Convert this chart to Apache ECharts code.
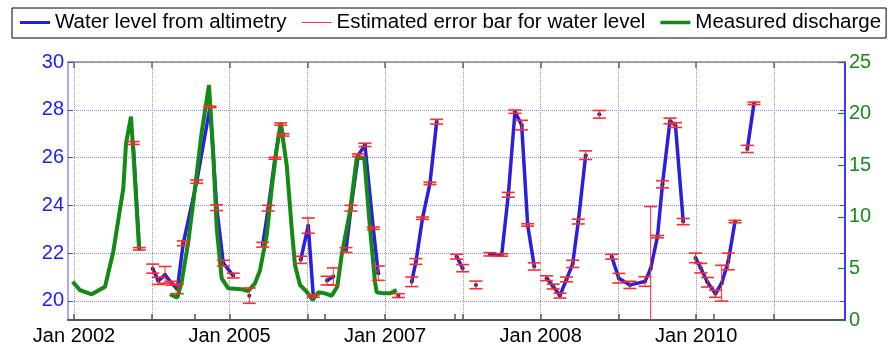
<!DOCTYPE html>
<html><head><meta charset="utf-8">
<script src="https://cdn.jsdelivr.net/npm/echarts@6/dist/echarts.min.js"></script>
<style>html,body{margin:0;padding:0;background:#fff}#c{width:888px;height:346px}</style>
</head><body><div id="c"></div>
<script>
// ---- axis ticks / labels ----
const xTickYears = [2002,2003,2004,2005,2006,2007,2008,2009,2010,2011];
const xLabelYears = [2002,2004,2006,2008,2010];
const xLabels = ['Jan 2002','Jan 2005','Jan 2007','Jan 2008','Jan 2010'];
const xExtraTicks = [2003.556,2005.227,2006.898,2010.228];
const levelTicks = [20,22,24,26,28,30];

// ---- water level from altimetry (null = gap) ----
const altYear = [2002.761,2002.840,null,
 2003.012,2003.084,2003.170,2003.256,2003.328,2003.405,2003.578,2003.749,2003.835,2003.920,2004.048,null,
 2004.254,null,
 2004.426,2004.498,2004.584,2004.658,2004.687,null,
 2004.915,2005.012,2005.077,null,
 2005.253,2005.334,null,
 2005.497,2005.561,2005.655,2005.741,2005.848,2005.912,null,
 2006.170,null,
 2006.342,2006.397,2006.481,2006.577,2006.663,null,
 2006.920,2006.997,null,
 2007.168,null,
 2007.348,2007.499,2007.584,2007.670,2007.756,2007.833,2007.918,null,
 2008.077,2008.162,2008.248,2008.332,2008.412,2008.484,2008.579,null,
 2008.754,null,
 2008.913,2009.005,2009.148,2009.341,2009.414,2009.502,2009.566,2009.663,2009.733,2009.833,null,
 2009.991,2010.059,2010.145,2010.248,2010.327,2010.412,2010.499,null,
 2010.657,2010.743];
const altLevel = [26.61,22.18,null,
 21.35,20.84,21.09,20.74,20.50,22.41,24.99,28.12,23.90,21.58,21.06,null,
 20.22,null,
 22.35,23.88,25.97,27.40,26.95,null,
 21.72,23.15,20.20,null,
 20.85,21.02,null,
 22.13,23.88,26.10,26.53,23.04,21.16,null,
 20.22,null,
 20.80,21.65,23.46,24.92,27.50,null,
 21.85,21.37,null,
 20.67,null,
 21.95,21.92,24.44,27.92,27.36,23.18,21.44,null,
 20.95,20.60,20.22,20.90,21.55,23.32,26.10,null,
 27.81,null,
 21.85,20.95,20.67,20.81,21.35,22.69,24.88,27.53,27.36,23.32,null,
 21.80,21.37,20.78,20.30,20.74,21.65,23.32,null,
 26.36,28.27];
const altErr = [0.06,0.05,null,
 0.19,0.15,0.35,0.08,0.20,0.10,0.07,0.03,0.12,0.12,0.10,null,
 0.32,null,
 0.10,0.12,0.04,0.05,0.05,null,
 0.15,0.32,0.05,null,
 0.18,0.36,null,
 0.10,0.12,0.05,0.07,0.05,0.30,null,
 0.08,null,
 0.20,0.12,0.05,0.05,0.10,null,
 0.10,0.15,null,
 0.16,null,
 0.07,0.05,0.10,0.07,0.20,0.05,0.15,null,
 0.10,0.10,0.10,0.10,0.15,0.10,0.18,null,
 0.16,null,
 0.10,0.20,0.15,0.20,2.60,0.05,0.15,0.12,0.10,0.13,null,
 0.20,0.20,0.20,0.15,0.75,0.35,0.05,null,
 0.15,0.05];

// ---- measured discharge (null = gap) ----
const qYear = [2001.983,2002.077,2002.228,2002.399,2002.505,2002.634,2002.669,2002.733,2002.771,2002.836,null,
 2003.234,2003.328,2003.385,2003.470,2003.556,2003.642,2003.736,2003.791,2003.835,2003.899,2003.984,
 2004.156,2004.241,2004.327,2004.391,2004.478,2004.542,2004.606,2004.658,2004.735,2004.799,2004.841,
 2004.906,2004.992,2005.069,2005.141,2005.227,2005.313,2005.385,2005.442,2005.548,2005.635,2005.732,
 2005.806,2005.870,2005.892,2005.977,2006.063,2006.149];
const qValue = [3.71,2.90,2.49,3.23,6.62,12.76,17.10,19.70,15.30,7.00,null,
 2.49,2.16,3.71,7.60,12.76,18.20,22.77,16.00,8.90,4.04,3.07,
 2.97,2.81,3.55,4.80,8.20,12.76,16.60,19.06,15.00,8.90,5.33,
 3.39,2.74,1.94,2.68,2.58,2.35,3.23,6.30,10.50,15.70,15.70,
 8.90,3.71,2.68,2.58,2.58,2.90];

const FONT = '"Liberation Sans", Arial, Helvetica, sans-serif';
const X_MIN = 2001.923, X_MAX = 2011.913;

const altData = altYear.map((x,i)=>[x, altLevel[i]]);
const qData = qYear.map((x,i)=>[x, qValue[i]]);
const errData = [];
altYear.forEach((x,i)=>{ if(x!==null && altLevel[i]!==null) errData.push([x, altLevel[i]-altErr[i], altLevel[i]+altErr[i]]); });

const chart = echarts.init(document.getElementById('c'), null, {renderer:'canvas'});
chart.setOption({
  animation:false,
  backgroundColor:'#fff',
  textStyle:{fontFamily:FONT},
  grid:{left:68, right:43, top:62, bottom:26, containLabel:false},
  legend:{
    left:12, top:8, orient:'horizontal',
    padding:[4,5,5,8], itemGap:15, itemWidth:30, itemHeight:14,
    borderColor:'#000', borderWidth:1,
    textStyle:{fontSize:20.5, color:'#000', fontFamily:FONT},
    data:[
      {name:'Water level from altimetry', icon:'path://M0,0H30V3H0Z', itemStyle:{color:'#1e1ee6'}},
      {name:'Estimated error bar for water level', icon:'path://M0,0H30V1H0Z', itemStyle:{color:'#ff3030'}},
      {name:'Measured discharge', icon:'path://M0,0H30V3.5H0Z', itemStyle:{color:'#138a13'}}
    ]
  },
  xAxis:[
    {type:'value', min:X_MIN, max:X_MAX, position:'bottom',
     axisLine:{show:true, lineStyle:{color:'#555', width:2}},
     axisTick:{show:true, inside:true, length:6, customValues:xTickYears, lineStyle:{color:'#555', width:1.5}},
     axisLabel:{show:true, customValues:xLabelYears, fontSize:20, color:'#000', margin:6, fontFamily:FONT,
       formatter:(v)=>{ const i = xLabelYears.findIndex(y=>Math.abs(y-v)<1e-6); return i>=0 ? xLabels[i] : ''; }},
     splitLine:{show:true, lineStyle:{type:'dotted', color:'#9a9a9a', width:1}}},
    {type:'value', min:X_MIN, max:X_MAX, position:'top',
     axisLine:{show:true, lineStyle:{color:'#888', width:1.5}},
     axisTick:{show:true, inside:true, length:6, customValues:xTickYears, lineStyle:{color:'#666', width:1.5}},
     axisLabel:{show:false}, splitLine:{show:false}},
    {type:'value', min:X_MIN, max:X_MAX, position:'bottom',
     axisLine:{show:false},
     axisTick:{show:true, inside:true, length:6, customValues:xExtraTicks, lineStyle:{color:'#555', width:1.5}},
     axisLabel:{show:false}, splitLine:{show:false}}
  ],
  yAxis:[
    {type:'value', min:19.2, max:30, position:'left',
     axisLine:{show:true, lineStyle:{color:'#8c8cff', width:1.5}},
     axisTick:{show:true, inside:true, length:5, customValues:levelTicks, lineStyle:{color:'#3c3cff'}},
     axisLabel:{show:true, customValues:levelTicks, fontSize:20, color:'#1a1aff', margin:4, fontFamily:FONT},
     splitLine:{show:true, lineStyle:{type:'dotted', color:'#8a8af0', width:1}}},
    {type:'value', min:0, max:25, interval:5, position:'right',
     axisLine:{show:true, lineStyle:{color:'#3a3aff', width:2}},
     axisTick:{show:true, inside:true, length:7, lineStyle:{color:'#1a8a1a', width:1.2}},
     axisLabel:{show:true, fontSize:20, color:'#1a8a1a', margin:4, fontFamily:FONT},
     splitLine:{show:false}},
    {type:'value', min:19.2, max:30, position:'right',
     axisLine:{show:false},
     axisTick:{show:true, inside:true, length:5, customValues:levelTicks, lineStyle:{color:'#3c3cff'}},
     axisLabel:{show:false}, splitLine:{show:false}}
  ],
  series:[
    {name:'Water level from altimetry', type:'line', xAxisIndex:0, yAxisIndex:0, data:altData,
     connectNulls:false, showSymbol:true, symbol:'circle', symbolSize:4,
     itemStyle:{color:'#23237a'}, lineStyle:{color:'#2a1ee0', width:3.5}, z:2},
    {name:'Measured discharge', type:'line', xAxisIndex:0, yAxisIndex:1, data:qData,
     connectNulls:false, showSymbol:false, lineStyle:{color:'#138a13', width:4}, itemStyle:{color:'#138a13'}, z:3},
    {name:'Estimated error bar for water level', type:'custom', xAxisIndex:0, yAxisIndex:0, data:errData,
     encode:{x:0, y:[1,2]}, z:4, itemStyle:{color:'#ff3030'},
     renderItem:(params, api)=>{
       const x = api.value(0), lo = api.value(1), hi = api.value(2);
       const pHi = api.coord([x, hi]), pLo = api.coord([x, lo]);
       const cs = params.coordSys, bottom = cs.y + cs.height;
       const w = 6.5;
       const vStyle = {stroke:'#ff3030', lineWidth:1};
       const cStyle = {stroke:'#ff2a2a', lineWidth:1.6};
       let yLo = pLo[1]; const clipped = yLo > bottom; if (clipped) yLo = bottom;
       const ch = [
         {type:'line', shape:{x1:pHi[0], y1:pHi[1], x2:pHi[0], y2:yLo}, style:vStyle},
         {type:'line', shape:{x1:pHi[0]-w, y1:pHi[1], x2:pHi[0]+w, y2:pHi[1]}, style:cStyle}
       ];
       if (!clipped) ch.push({type:'line', shape:{x1:pLo[0]-w, y1:pLo[1], x2:pLo[0]+w, y2:pLo[1]}, style:cStyle});
       return {type:'group', children:ch};
     }}
  ]
});
</script>
</body></html>
